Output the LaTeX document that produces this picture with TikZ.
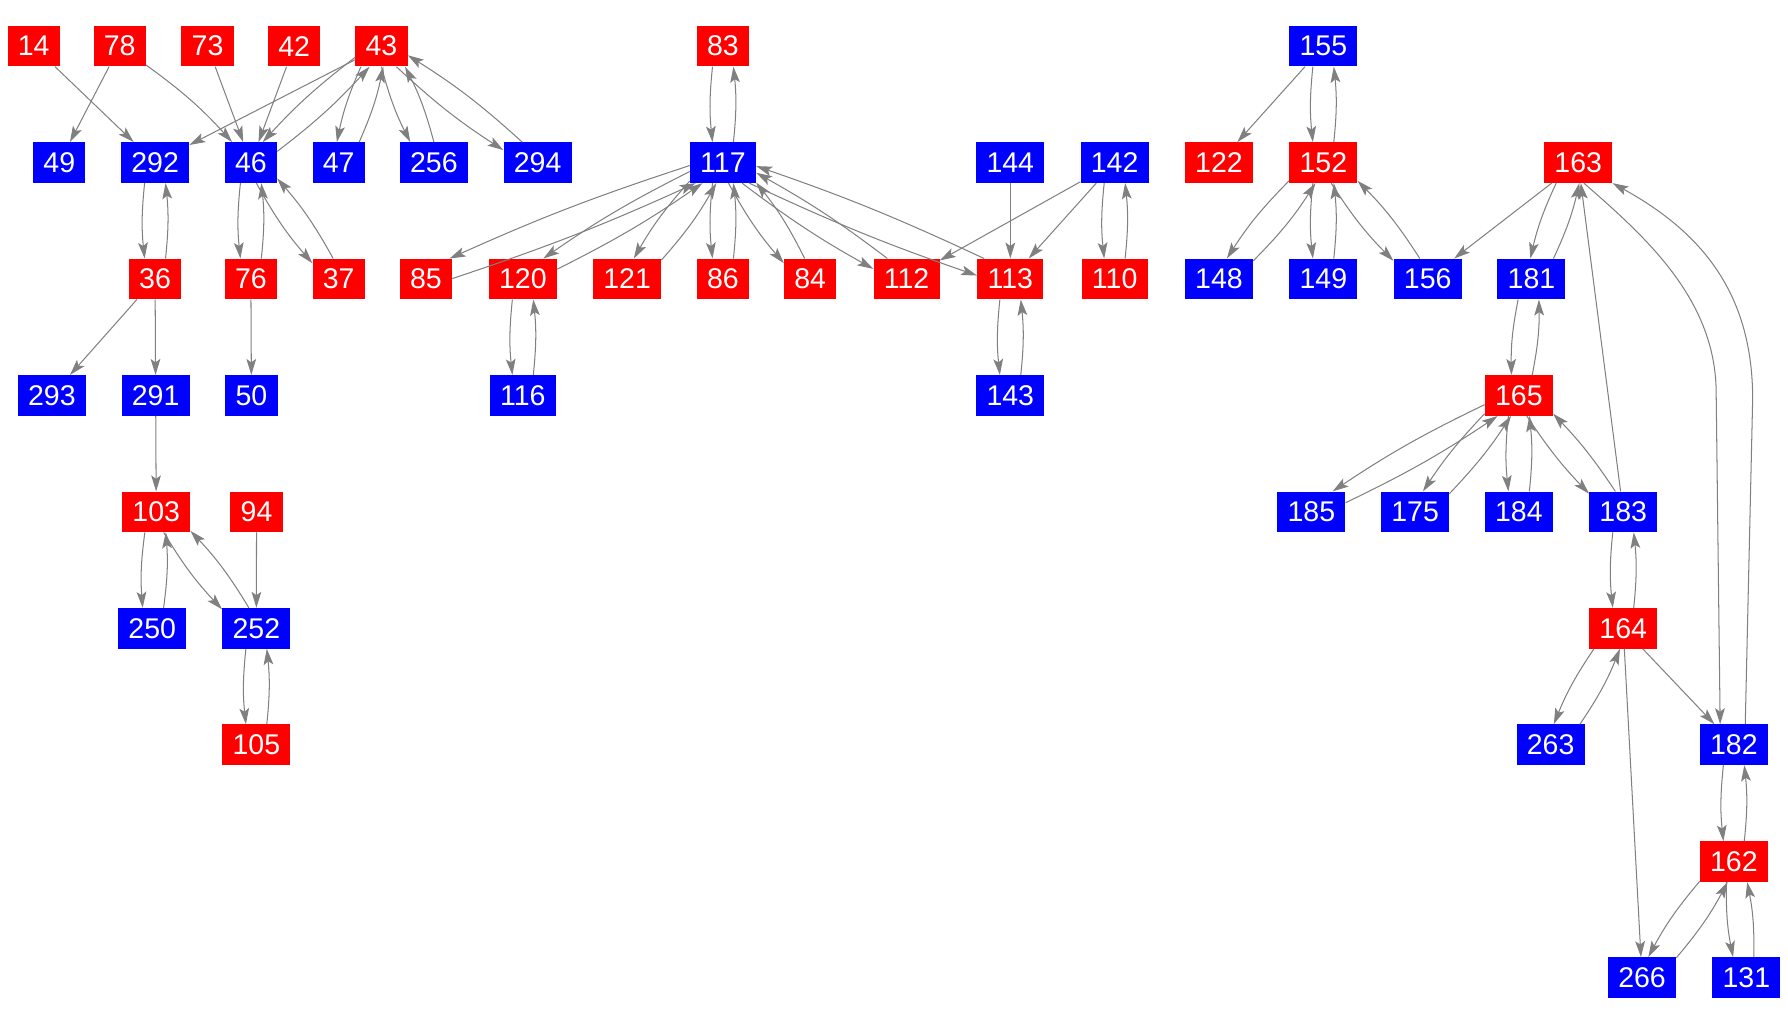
\documentclass[tikz,border=0pt]{standalone}
\usepackage{fontspec}
\setmainfont{Liberation Sans}
\usetikzlibrary{arrows.meta,calc}
\newcommand\dd{9}
% \pe[bend]{A}{B}: connector A -> B, shifted to the right of travel by \dd
\newcommand\pe[3][6]{%
  \pgfpointdiff{\pgfpointanchor{#2}{center}}{\pgfpointanchor{#3}{center}}%
  \pgfgetlastxy{\dxA}{\dyA}%
  \pgfpointdiff{\pgfpointanchor{#2}{center}}{\pgfpointanchor{#2}{north east}}%
  \pgfgetlastxy{\wA}{\hA}%
  \pgfpointdiff{\pgfpointanchor{#3}{center}}{\pgfpointanchor{#3}{north east}}%
  \pgfgetlastxy{\wB}{\hB}%
  \pgfmathsetmacro\aAB{atan2(\dyA,\dxA)}%
  \pgfmathsetmacro\rA{min(\wA/max(abs(cos(\aAB)),0.01),\hA/max(abs(sin(\aAB)),0.01))}%
  \pgfmathsetmacro\rB{min(\wB/max(abs(cos(\aAB)),0.01),\hB/max(abs(sin(\aAB)),0.01))}%
  \pgfmathtruncatemacro\sA{round(\aAB-atan(\dd/\rA))}%
  \pgfmathtruncatemacro\sB{round(\aAB+180+atan(\dd/\rB))}%
  \draw[lnk] (#2.\sA) to[bend right=#1] (#3.\sB);%
}
\begin{document}
\begin{tikzpicture}[x=1pt,y=-1pt,
  nd/.style={rectangle, inner xsep=9pt, inner ysep=0pt, minimum height=35.6pt,
    text=white, font=\fontsize{25}{30}\selectfont},
  rd/.style={nd, fill=red},
  bl/.style={nd, fill=blue},
  lnk/.style={draw=gray, line width=0.9pt, -{Stealth[length=14pt,width=8.5pt,inset=3pt]}}]
\useasboundingbox (0,0) rectangle (1568,899);
% row 1
\node[rd] (n14) at (29.5,40.5) {14};
\node[rd] (n78) at (105,40.5) {78};
\node[rd] (n73) at (182,40.5) {73};
\node[rd] (n42) at (258,40.5) {42};
\node[rd] (n43) at (334.5,40.5) {43};
\node[rd] (n83) at (634,40.5) {83};
\node[bl] (n155) at (1160.5,40.5) {155};
% row 2
\node[bl] (n49) at (52,142.6) {49};
\node[bl] (n292) at (136,142.6) {292};
\node[bl] (n46) at (220,142.6) {46};
\node[bl] (n47) at (297,142.6) {47};
\node[bl] (n256) at (380.5,142.6) {256};
\node[bl] (n294) at (471.5,142.6) {294};
\node[bl] (n117) at (634,142.6) {117};
\node[bl] (n144) at (886,142.6) {144};
\node[bl] (n142) at (977.5,142.6) {142};
\node[rd] (n122) at (1069,142.6) {122};
\node[rd] (n152) at (1160.5,142.6) {152};
\node[rd] (n163) at (1384,142.6) {163};
% row 3
\node[rd] (n36) at (136,244.7) {36};
\node[rd] (n76) at (220,244.7) {76};
\node[rd] (n37) at (297,244.7) {37};
\node[rd] (n85) at (373.5,244.7) {85};
\node[rd] (n120) at (458.5,244.7) {120};
\node[rd] (n121) at (550,244.7) {121};
\node[rd] (n86) at (634,244.7) {86};
\node[rd] (n84) at (710.5,244.7) {84};
\node[rd] (n112) at (795,244.7) {112};
\node[rd] (n113) at (886,244.7) {113};
\node[rd] (n110) at (977.5,244.7) {110};
\node[bl] (n148) at (1069,244.7) {148};
\node[bl] (n149) at (1160.5,244.7) {149};
\node[bl] (n156) at (1252,244.7) {156};
\node[bl] (n181) at (1343,244.7) {181};
% row 4
\node[bl] (n293) at (45.5,346.8) {293};
\node[bl] (n291) at (136.5,346.8) {291};
\node[bl] (n50) at (220.5,346.8) {50};
\node[bl] (n116) at (458.5,346.8) {116};
\node[bl] (n143) at (886,346.8) {143};
\node[rd] (n165) at (1332,346.8) {165};
% row 5
\node[rd] (n103) at (137,448.9) {103};
\node[rd] (n94) at (225,448.9) {94};
\node[bl] (n185) at (1150,448.9) {185};
\node[bl] (n175) at (1241,448.9) {175};
\node[bl] (n184) at (1332,448.9) {184};
\node[bl] (n183) at (1423.5,448.9) {183};
% row 6
\node[bl] (n250) at (133.5,551) {250};
\node[bl] (n252) at (224.8,551) {252};
\node[rd] (n164) at (1423.5,551) {164};
% row 7
\node[rd] (n105) at (224.8,653.1) {105};
\node[bl] (n263) at (1359.8,653.1) {263};
\node[bl] (n182) at (1520.5,653.1) {182};
% row 8
\node[rd] (n162) at (1520.5,755.6) {162};
% row 9
\node[bl] (n266) at (1440,857.3) {266};
\node[bl] (n131) at (1531.5,857.3) {131};

% single connectors
\draw[lnk] (n14) -- (n292);
\draw[lnk] (n78) -- (n49);
\draw[lnk] (n78) to[bend left=6] (n46);
\draw[lnk] (n73) -- (n46);
\draw[lnk] (n42) -- (n46);
\draw[lnk] (n43) -- (n292);
\draw[lnk] (n36) -- (n293);
\draw[lnk] (n36) -- (n291);
\draw[lnk] (n76) -- (n50);
\draw[lnk] (n291) -- (n103);
\draw[lnk] (n94) -- (n252);
\draw[lnk] (n144) -- (n113);
\draw[lnk] (n142) -- (n112);
\draw[lnk] (n142) -- (n113);
\draw[lnk] (n155) -- (n122);
\draw[lnk] (n163) -- (n156);
\draw[lnk] (n183) -- (n163);
\draw[lnk] (n164) -- (n182);
\draw[lnk] (n164) -- (n266);
\draw[lnk] ([xshift=5pt]n163.south) .. controls (1442,207) and (1505,262) .. (1505,345) -- ([xshift=-12pt]n182.north);
\draw[lnk] ([xshift=10pt]n182.north) -- (1537,350) .. controls (1537,260) and (1495,205) .. (n163.south east);

% paired connectors
\pe[5]{n43}{n46}\pe[5]{n46}{n43}
\pe{n43}{n47}\pe{n47}{n43}
\pe{n43}{n256}\pe{n256}{n43}
\pe[5]{n43}{n294}\pe[5]{n294}{n43}
\pe{n292}{n36}\pe{n36}{n292}
\pe{n46}{n76}\pe{n76}{n46}
\pe{n46}{n37}\pe{n37}{n46}
\pe{n83}{n117}\pe{n117}{n83}
\pe[3]{n117}{n85}\pe[3]{n85}{n117}
\pe[4]{n117}{n120}\pe[4]{n120}{n117}
\pe{n117}{n121}\pe{n121}{n117}
\pe{n117}{n86}\pe{n86}{n117}
\pe{n117}{n84}\pe{n84}{n117}
\pe[4]{n117}{n112}\pe[4]{n112}{n117}
\pe[3]{n117}{n113}\pe[3]{n113}{n117}
\pe{n120}{n116}\pe{n116}{n120}
\pe{n113}{n143}\pe{n143}{n113}
\pe{n142}{n110}\pe{n110}{n142}
\pe{n103}{n250}\pe{n250}{n103}
\pe{n103}{n252}\pe{n252}{n103}
\pe{n252}{n105}\pe{n105}{n252}
\pe{n155}{n152}\pe{n152}{n155}
\pe{n152}{n148}\pe{n148}{n152}
\pe{n152}{n149}\pe{n149}{n152}
\pe{n152}{n156}\pe{n156}{n152}
\pe{n163}{n181}\pe{n181}{n163}
\pe{n181}{n165}\pe{n165}{n181}
\pe[4]{n165}{n185}\pe[4]{n185}{n165}
\pe[5]{n165}{n175}\pe[5]{n175}{n165}
\pe{n165}{n184}\pe{n184}{n165}
\pe[5]{n165}{n183}\pe[5]{n183}{n165}
\pe{n183}{n164}\pe{n164}{n183}
\pe{n164}{n263}\pe{n263}{n164}
\pe{n182}{n162}\pe{n162}{n182}
\pe{n162}{n266}\pe{n266}{n162}
\pe{n162}{n131}\pe{n131}{n162}
\end{tikzpicture}
\end{document}
